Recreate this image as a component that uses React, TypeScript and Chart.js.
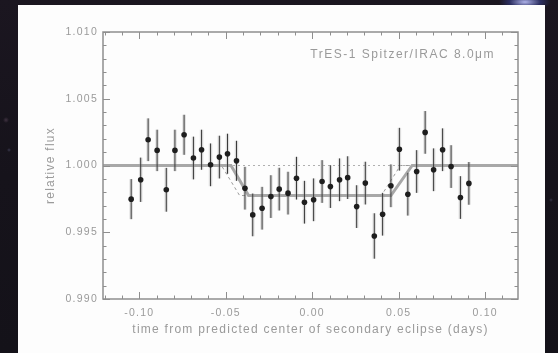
import { useEffect, useRef } from "react";
import { Chart, registerables } from "chart.js";

Chart.register(...registerables);

// Binned Spitzer photometry around the secondary eclipse
const timeDays = [
  -0.1047, -0.0992, -0.0949, -0.0897, -0.0844, -0.0794, -0.0741, -0.0687,
  -0.064, -0.0588, -0.0537, -0.049, -0.0438, -0.0389, -0.0344, -0.029,
  -0.0239, -0.0191, -0.014, -0.0091, -0.0045, 0.0008, 0.0057, 0.0105,
  0.0158, 0.0205, 0.0257, 0.0307, 0.0359, 0.0407, 0.0455, 0.0504,
  0.0553, 0.0604, 0.0653, 0.0702, 0.0754, 0.0803, 0.0857, 0.0906,
];
const relativeFlux = [
  0.99748, 0.99893, 1.00193, 1.00113, 0.99818, 1.00113, 1.0023, 1.00056,
  1.00118, 1.00005, 1.00063, 1.00088, 1.00035, 0.9983, 0.9963, 0.9968,
  0.99767, 0.99823, 0.99793, 0.99905, 0.99725, 0.99743, 0.9988, 0.99842,
  0.99893, 0.99909, 0.99692, 0.99868, 0.99472, 0.99635, 0.99848, 1.00122,
  0.99785, 0.99955, 1.00248, 0.99968, 1.00118, 0.99992, 0.9976, 0.99866,
];
const fluxError = [
  0.0015, 0.00166, 0.0016, 0.00155, 0.00164, 0.00155, 0.0015, 0.0016,
  0.0015, 0.0016, 0.0016, 0.0015, 0.0015, 0.0016, 0.0016, 0.0016,
  0.0016, 0.0016, 0.0016, 0.0016, 0.0016, 0.0016, 0.0016, 0.0016,
  0.0016, 0.0016, 0.0016, 0.0016, 0.0017, 0.0016, 0.0016, 0.0016,
  0.0016, 0.0016, 0.0016, 0.0016, 0.0016, 0.0016, 0.0016, 0.0016,
];

// Best-fit eclipse model
const fitTime = [-0.121, -0.047, -0.0368, 0.0455, 0.0578, 0.119];
const fitFlux = [1.0, 1.0, 0.99775, 0.99775, 1.0, 1.0];

// Eclipse model at the predicted timing
const predTime = [-0.121, -0.0525, -0.042, 0.04, 0.051, 0.119];
const predFlux = [1.0, 1.0, 0.99775, 0.99775, 1.0, 1.0];

// Out-of-eclipse baseline
const baseTime = [-0.121, 0.119];
const baseFlux = [1.0, 1.0];

const xTickValues = [-0.1, -0.05, 0.0, 0.05, 0.1];
const xTickLabels = ["-0.10", "-0.05", "0.00", "0.05", "0.10"];
const yTickValues = [0.99, 0.995, 1.0, 1.005, 1.01];
const yTickLabels = ["0.990", "0.995", "1.000", "1.005", "1.010"];

const plotTitle = "TrES-1 Spitzer/IRAC 8.0\u03bcm";
const xTitle = "time from predicted center of secondary eclipse (days)";
const yTitle = "relative flux";

const X_MIN = -0.121;
const X_MAX = 0.119;
const Y_MIN = 0.99;
const Y_MAX = 1.01;
const X_MINOR_STEP = 0.01;
const Y_MINOR_STEP = 0.001;

const INK = "#9a9a9a";
const FRAME = "#8e8e8e";
const FONT = "'Liberation Sans', Arial, sans-serif";
const SPACING = "1.25px";

function pairs(xs: number[], ys: number[]) {
  return xs.map((x, i) => ({ x, y: ys[i] }));
}

// Wide letter spacing for every label the chart draws
const spacedText = {
  id: "spacedText",
  beforeDraw(chart: any) {
    chart.ctx.letterSpacing = SPACING;
  },
};

const errorBars = {
  id: "errorBars",
  beforeDatasetDraw(chart: any, args: any) {
    if (args.index !== 0) return;
    const { ctx, scales } = chart;
    const xs = scales.x;
    const ys = scales.y;
    ctx.save();
    ctx.lineCap = "butt";
    timeDays.forEach((t, i) => {
      const px = xs.getPixelForValue(t);
      const top = ys.getPixelForValue(relativeFlux[i] + fluxError[i]);
      const bot = ys.getPixelForValue(relativeFlux[i] - fluxError[i]);
      ctx.strokeStyle = "rgba(150,150,150,0.3)";
      ctx.lineWidth = 3.5;
      ctx.beginPath();
      ctx.moveTo(px, top);
      ctx.lineTo(px, bot);
      ctx.stroke();
      ctx.strokeStyle = "#3a3a3a";
      ctx.lineWidth = 1;
      ctx.beginPath();
      ctx.moveTo(px, top);
      ctx.lineTo(px, bot);
      ctx.stroke();
    });
    ctx.restore();
  },
};

const frameAndTicks = {
  id: "frameAndTicks",
  afterDatasetsDraw(chart: any) {
    const { ctx, chartArea: a, scales } = chart;
    const xs = scales.x;
    const ys = scales.y;
    ctx.save();
    ctx.strokeStyle = FRAME;
    ctx.lineWidth = 1;
    const major = 7;
    const minor = 3.5;
    const xMinor: number[] = [];
    for (let k = Math.ceil(X_MIN / X_MINOR_STEP); k * X_MINOR_STEP <= X_MAX; k++) xMinor.push(k * X_MINOR_STEP);
    const yMinor: number[] = [];
    for (let k = Math.ceil(Y_MIN / Y_MINOR_STEP - 1e-6); k * Y_MINOR_STEP <= Y_MAX + 1e-9; k++) yMinor.push(k * Y_MINOR_STEP);
    ctx.beginPath();
    xMinor.forEach((v) => {
      const isMajor = xTickValues.some((m) => Math.abs(m - v) < 1e-6);
      const len = isMajor ? major : minor;
      const px = Math.round(xs.getPixelForValue(v)) + 0.5;
      ctx.moveTo(px, a.bottom);
      ctx.lineTo(px, a.bottom - len);
      ctx.moveTo(px, a.top);
      ctx.lineTo(px, a.top + len);
    });
    yMinor.forEach((v) => {
      const isMajor = yTickValues.some((m) => Math.abs(m - v) < 1e-7);
      const len = isMajor ? major : minor;
      const py = Math.round(ys.getPixelForValue(v)) + 0.5;
      ctx.moveTo(a.left, py);
      ctx.lineTo(a.left + len, py);
      ctx.moveTo(a.right, py);
      ctx.lineTo(a.right - len, py);
    });
    ctx.stroke();
    ctx.lineWidth = 1.5;
    ctx.strokeRect(a.left, a.top, a.right - a.left, a.bottom - a.top);

    ctx.fillStyle = INK;
    ctx.font = `12px ${FONT}`;
    ctx.letterSpacing = "1.5px";
    ctx.textAlign = "right";
    ctx.textBaseline = "middle";
    ctx.fillText(plotTitle, a.right - 23, a.top + 23);
    ctx.restore();
  },
};

export default function App() {
  const canvasRef = useRef<HTMLCanvasElement | null>(null);

  useEffect(() => {
    const canvas = canvasRef.current;
    if (!canvas) return;
    const chart = new Chart(canvas, {
      type: "scatter",
      data: {
        datasets: [
          {
            label: "data",
            data: pairs(timeDays, relativeFlux),
            pointRadius: 2.8,
            pointStyle: "circle",
            backgroundColor: "#1e1e1e",
            borderWidth: 0,
            order: 0,
          },
          {
            label: "fit",
            type: "line",
            data: pairs(fitTime, fitFlux),
            borderColor: "#a8a8a8",
            borderWidth: 3,
            pointRadius: 0,
            fill: false,
            order: 1,
          },
          {
            label: "predicted",
            type: "line",
            data: pairs(predTime, predFlux),
            borderColor: "#9a9a9a",
            borderWidth: 1,
            borderDash: [3, 3],
            pointRadius: 0,
            fill: false,
            order: 2,
          },
          {
            label: "baseline",
            type: "line",
            data: pairs(baseTime, baseFlux),
            borderColor: "#b0b0b0",
            borderWidth: 1,
            borderDash: [2, 3],
            pointRadius: 0,
            fill: false,
            order: 3,
          },
        ],
      },
      options: {
        animation: false,
        responsive: false,
        devicePixelRatio: 1,
        layout: { padding: { left: 0, right: 40, top: 32, bottom: 0 } },
        plugins: {
          legend: { display: false },
          tooltip: { enabled: false },
        },
        scales: {
          x: {
            type: "linear",
            min: X_MIN,
            max: X_MAX,
            afterBuildTicks: (s: any) => {
              s.ticks = xTickValues.map((value) => ({ value }));
            },
            afterFit: (s: any) => {
              s.height = 54;
            },
            grid: { display: false, drawTicks: false },
            border: { display: false },
            ticks: {
              autoSkip: false,
              maxRotation: 0,
              padding: 8,
              color: INK,
              font: { family: FONT, size: 10.5 },
              callback: (_v: any, i: number) => xTickLabels[i],
            },
            title: {
              display: true,
              text: xTitle,
              color: INK,
              font: { family: FONT, size: 12 },
              padding: { top: 0, bottom: 16 },
            },
          },
          y: {
            type: "linear",
            min: Y_MIN,
            max: Y_MAX,
            afterBuildTicks: (s: any) => {
              s.ticks = yTickValues.map((value) => ({ value }));
            },
            afterFit: (s: any) => {
              s.width = 103;
            },
            grid: { display: false, drawTicks: false },
            border: { display: false },
            ticks: {
              autoSkip: false,
              padding: 5,
              color: INK,
              font: { family: FONT, size: 10.5 },
              callback: (_v: any, i: number) => yTickLabels[i],
            },
            title: {
              display: true,
              text: yTitle,
              color: INK,
              font: { family: FONT, size: 12 },
              padding: { top: 43, bottom: 0 },
            },
          },
        },
      },
      plugins: [spacedText, errorBars, frameAndTicks],
    });
    return () => chart.destroy();
  }, []);

  return (
    <div
      style={{
        position: "fixed",
        left: 0,
        top: 0,
        width: 558,
        height: 353,
        overflow: "hidden",
        background:
          "radial-gradient(ellipse 26px 9px at 525px 2px, rgba(190,195,255,0.9), rgba(60,70,160,0.5) 60%, rgba(0,0,0,0) 100%), radial-gradient(circle 3px at 6px 120px, rgba(90,70,90,0.6), rgba(0,0,0,0)), radial-gradient(circle 2px at 9px 150px, rgba(80,80,110,0.6), rgba(0,0,0,0)), radial-gradient(circle 2px at 551px 200px, rgba(80,80,110,0.5), rgba(0,0,0,0)), linear-gradient(180deg, #1b1620 0%, #16131b 50%, #141219 100%)",
      }}
    >
      <div
        style={{
          position: "absolute",
          left: 18,
          top: 5,
          width: 527,
          height: 348,
          background: "#fdfdfd",
        }}
      />
      <canvas
        ref={canvasRef}
        width={558}
        height={353}
        style={{ position: "absolute", left: 0, top: 0, width: 558, height: 353 }}
      />
    </div>
  );
}
